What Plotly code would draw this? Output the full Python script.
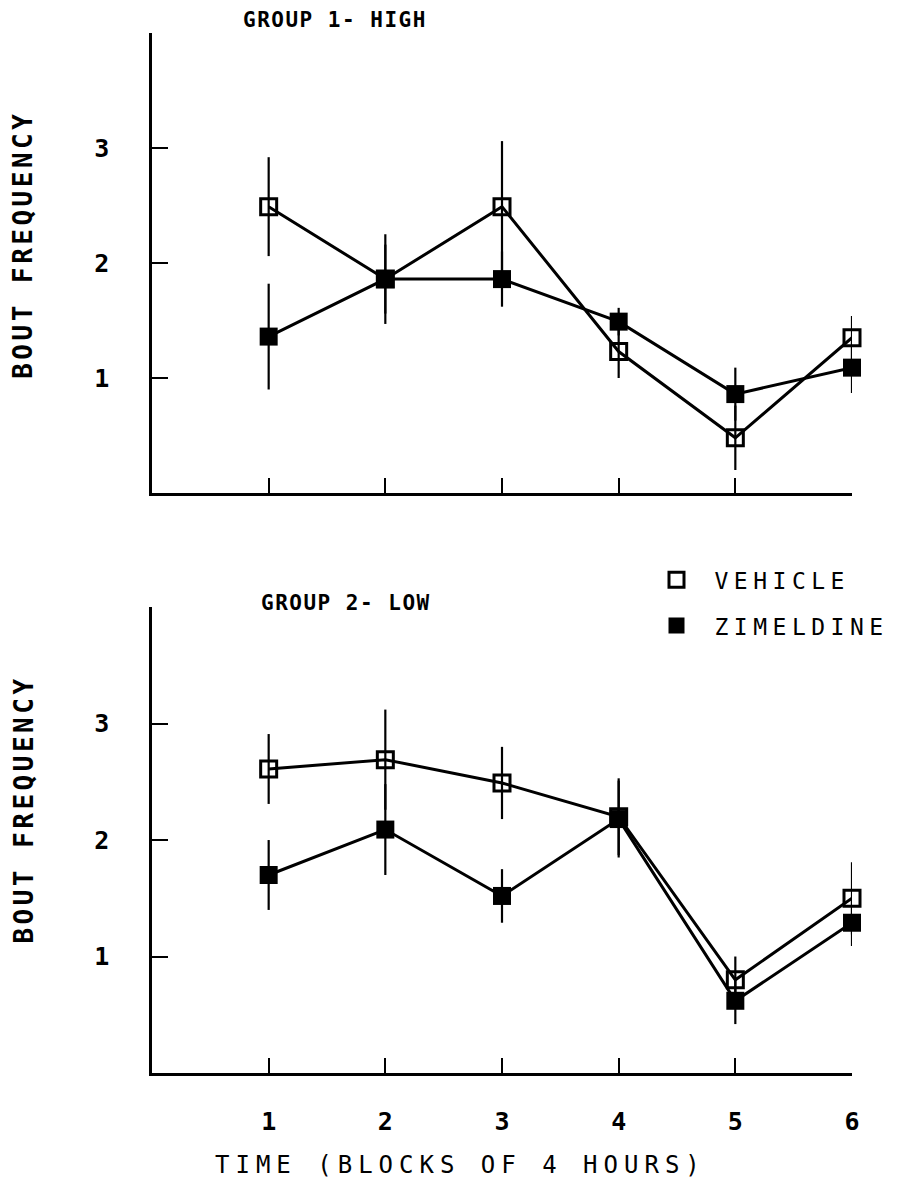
import plotly.graph_objects as go

# ---------------- data ----------------
time_blocks = [1, 2, 3, 4, 5, 6]
x_tick_labels = ["1", "2", "3", "4", "5", "6"]

# Group 1 - High
g1_vehicle = [2.49, 1.86, 2.49, 1.23, 0.48, 1.35]
g1_vehicle_se = [0.43, 0.39, 0.57, 0.23, 0.28, 0.19]
g1_zimeldine = [1.36, 1.86, 1.86, 1.49, 0.86, 1.09]
g1_zimeldine_se = [0.46, 0.30, 0.24, 0.12, 0.23, 0.22]

# Group 2 - Low
g2_vehicle = [2.61, 2.69, 2.49, 2.20, 0.80, 1.50]
g2_vehicle_se = [0.30, 0.43, 0.31, 0.33, 0.20, 0.31]
g2_zimeldine = [1.70, 2.09, 1.52, 2.18, 0.62, 1.29]
g2_zimeldine_se = [0.30, 0.39, 0.23, 0.33, 0.20, 0.20]

y_tick_vals = [1, 2, 3, 4]
y_tick_labels = ["1", "2", "3", ""]

series_names = ["VEHICLE", "ZIMELDINE"]

FONT = "DejaVu Sans Mono"


def spaced(text, px):
    return f'<span style="letter-spacing:{px}px">{text}</span>'


fig = go.Figure()

panels = [
    ("x", "y", g1_vehicle, g1_vehicle_se, g1_zimeldine, g1_zimeldine_se),
    ("x2", "y2", g2_vehicle, g2_vehicle_se, g2_zimeldine, g2_zimeldine_se),
]

for xa, ya, veh, veh_se, zim, zim_se in panels:
    fig.add_trace(go.Scatter(
        x=time_blocks, y=zim, xaxis=xa, yaxis=ya, mode="lines+markers",
        line=dict(color="black", width=3),
        marker=dict(symbol="square", size=18, color="black"),
        error_y=dict(type="data", array=zim_se, visible=True, color="black",
                     thickness=2.2, width=0),
        showlegend=False, cliponaxis=False,
    ))
    fig.add_trace(go.Scatter(
        x=time_blocks, y=veh, xaxis=xa, yaxis=ya, mode="lines+markers",
        line=dict(color="black", width=3),
        marker=dict(symbol="square-open", size=16, color="black",
                    line=dict(width=3, color="black")),
        error_y=dict(type="data", array=veh_se, visible=True, color="black",
                     thickness=2.2, width=0),
        showlegend=False, cliponaxis=False,
    ))

# legend-only entries
fig.add_trace(go.Scatter(
    x=[None], y=[None], xaxis="x2", yaxis="y2", mode="markers",
    name=spaced(series_names[0], 5.5), legendgroup="v",
    marker=dict(symbol="square-open", size=15, color="black",
                line=dict(width=3, color="black")),
))
fig.add_trace(go.Scatter(
    x=[None], y=[None], xaxis="x2", yaxis="y2", mode="markers",
    name=spaced(series_names[1], 5.5), legendgroup="z",
    marker=dict(symbol="square", size=16, color="black"),
))

xaxis_common = dict(
    range=[0, 6], tickvals=time_blocks, ticktext=x_tick_labels,
    showline=True, linecolor="black", linewidth=2.5,
    ticks="inside", ticklen=15, tickwidth=2, tickcolor="black",
    showgrid=False, zeroline=False,
    tickfont=dict(family=FONT, size=25, color="black", weight="bold"),
)
yaxis_common = dict(
    range=[0, 4], tickvals=y_tick_vals, ticktext=y_tick_labels,
    showline=True, linecolor="black", linewidth=2.5,
    ticks="inside", ticklen=16, tickwidth=2, tickcolor="black",
    showgrid=False, zeroline=False, ticklabelstandoff=35,
    tickfont=dict(family=FONT, size=25, color="black", weight="bold"),
)

fig.update_layout(
    width=901, height=1189,
    margin=dict(l=144, r=57, t=25, b=124, autoexpand=False),
    plot_bgcolor="white", paper_bgcolor="white",
    xaxis=dict(domain=[0, 1], anchor="y", showticklabels=False, **xaxis_common),
    yaxis=dict(domain=[0.5577, 1], anchor="x", **yaxis_common),
    xaxis2=dict(domain=[0, 1], anchor="y2", showticklabels=True,
                ticklabelstandoff=24, **xaxis_common),
    yaxis2=dict(domain=[0, 0.448], anchor="x2", **yaxis_common),
    legend=dict(
        x=0.695, y=0.495, xanchor="left", yanchor="top",
        font=dict(family=FONT, size=23, color="black"),
        bgcolor="rgba(0,0,0,0)", traceorder="grouped", tracegroupgap=13,
        itemwidth=66,
    ),
    showlegend=True,
)

ann_font_title = dict(family=FONT, size=21, color="black", weight="bold")
ann_font_axis = dict(family=FONT, size=26, color="black", weight="bold")
fig.add_annotation(text=spaced("GROUP 1- HIGH", 1.5), xref="paper", yref="paper",
                   x=0.262, y=1.0125, xanchor="center", yanchor="middle",
                   showarrow=False, font=ann_font_title)
fig.add_annotation(text=spaced("GROUP 2- LOW", 1.5), xref="paper", yref="paper",
                   x=0.2765, y=0.4519, xanchor="center", yanchor="middle",
                   showarrow=False, font=ann_font_title)
fig.add_annotation(text=spaced("BOUT FREQUENCY", 3.5), xref="paper", yref="paper",
                   x=-0.1834, y=0.796, xanchor="center", yanchor="middle",
                   textangle=-90, showarrow=False, font=ann_font_axis)
fig.add_annotation(text=spaced("BOUT FREQUENCY", 3.5), xref="paper", yref="paper",
                   x=-0.1834, y=0.2529, xanchor="center", yanchor="middle",
                   textangle=-90, showarrow=False, font=ann_font_axis)
fig.add_annotation(text=spaced("TIME (BLOCKS OF 4 HOURS)", 6), xref="paper",
                   yref="paper", x=0.441, y=-0.0885, xanchor="center",
                   yanchor="middle", showarrow=False,
                   font=dict(family=FONT, size=24, color="black"))

fig.write_html("out.html")
